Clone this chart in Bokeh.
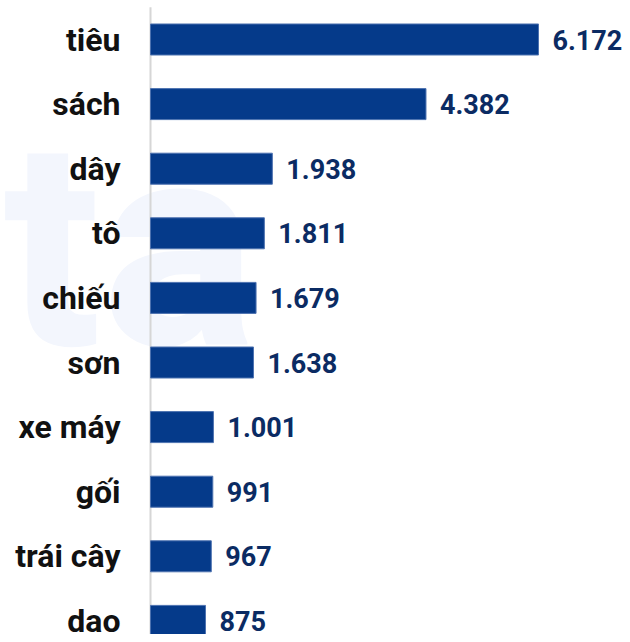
from bokeh.plotting import figure
from bokeh.models import ColumnDataSource, Range1d
from bokeh.core.properties import value
from bokeh.embed import file_html
from bokeh.resources import INLINE

categories = ["tiêu", "sách", "dây", "tô", "chiếu", "sơn", "xe máy", "gối", "trái cây", "dao"]
values = [6172, 4382, 1938, 1811, 1679, 1638, 1001, 991, 967, 875]

W, H = 622, 634
AXIS_PX = 150          # pixel position of the value axis baseline
MAX_BAR_PX = 388       # pixel length of the longest bar
PITCH = 64.6           # pixel distance between rows
FIRST_ROW = 39.0       # pixel centre of first row

k = max(values) / MAX_BAR_PX          # data units per pixel
x_start = -AXIS_PX * k
x_end = (W - AXIS_PX) * k
y_top = -FIRST_ROW / PITCH
y_bot = (H - FIRST_ROW) / PITCH

ypos = list(range(len(categories)))
labels = [f"{v:,}".replace(",", ".") for v in values]
src = ColumnDataSource(dict(y=ypos, v=values, lab=labels, cat=categories, zero=[0] * len(values)))

p = figure(width=W, height=H, output_backend="svg", toolbar_location=None,
           x_range=Range1d(x_start, x_end), y_range=Range1d(y_bot, y_top),
           x_axis_location=None, y_axis_location=None,
           min_border_left=0, min_border_right=0, min_border_top=0, min_border_bottom=0)
p.outline_line_color = None
p.grid.visible = False
p.background_fill_color = "white"
p.border_fill_color = "white"

# faint watermark logo
p.text(x=[(3 - AXIS_PX) * k], y=[(245 - FIRST_ROW) / PITCH], text=["ta"],
       text_font=value("Roboto"), text_font_style="bold", text_font_size="290px",
       text_color="#f3f6fd", text_align="left", text_baseline="alphabetic")

# value axis line
p.segment(x0=[0], x1=[0], y0=[-0.5], y1=[len(categories) - 0.5],
          line_color="#d6d6d6", line_width=2)

p.hbar(y="y", right="v", left=0, height=0.48, source=src,
       fill_color="#053a8a", line_color="#4d72b0", line_width=1)

p.text(x="v", y="y", text="lab", source=src, x_offset=14,
       text_align="left", text_baseline="middle",
       text_font=value("Roboto"), text_font_style="bold", text_font_size="27px",
       text_color="#0b2b63")

p.text(x="zero", y="y", text="cat", source=src, x_offset=-30,
       text_align="right", text_baseline="middle",
       text_font=value("Roboto"), text_font_style="bold", text_font_size="32px",
       text_color="#111111")

open("out.html", "w").write(file_html(p, INLINE))
